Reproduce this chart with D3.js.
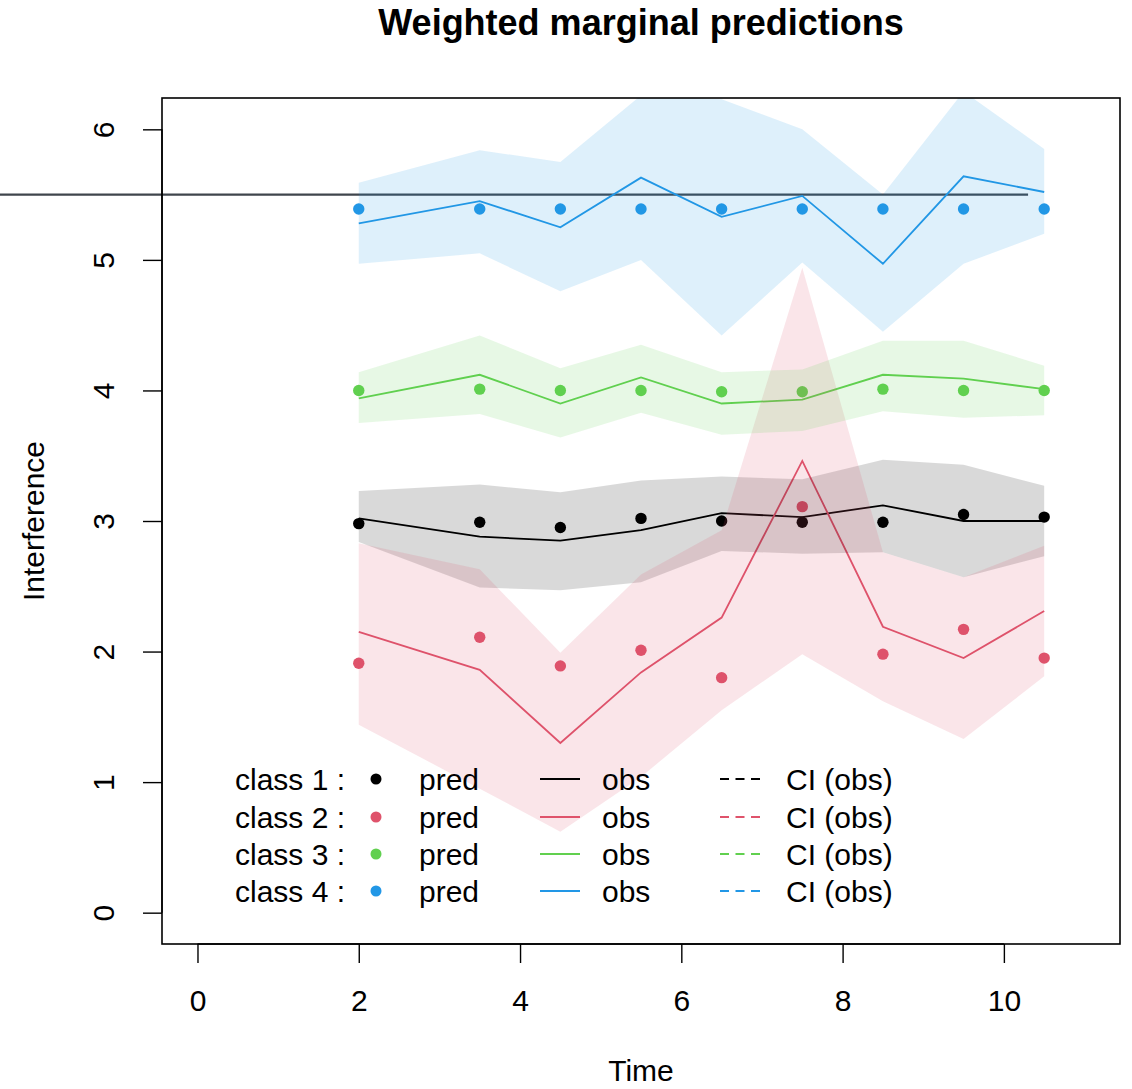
<!DOCTYPE html>
<html>
<head>
<meta charset="utf-8">
<script src="https://cdnjs.cloudflare.com/ajax/libs/d3/7.8.5/d3.min.js"></script>
<style>
  body { margin: 0; background: #fff; }
  svg text { font-family: "Liberation Sans", Arial, Helvetica, sans-serif; fill: #000; }
</style>
</head>
<body>
<div id="chart"></div>
<script>
// Data
//-----
var times = [2, 3.5, 4.5, 5.5, 6.5, 7.5, 8.5, 9.5, 10.5];
var classNames = ["class 1 :", "class 2 :", "class 3 :", "class 4 :"];
var classColors = ["#000000", "#DF536B", "#61D04F", "#2297E6"];

var pred1 = [2.98, 2.99, 2.95, 3.02, 3.00, 2.99, 2.99, 3.05, 3.03];
var obs1  = [3.02, 2.88, 2.85, 2.93, 3.06, 3.03, 3.12, 3.00, 3.00];
var hi1   = [3.23, 3.28, 3.22, 3.31, 3.34, 3.32, 3.47, 3.43, 3.27];
var lo1   = [2.84, 2.49, 2.47, 2.53, 2.77, 2.75, 2.76, 2.57, 2.73];

var pred2 = [1.91, 2.11, 1.89, 2.01, 1.80, 3.11, 1.98, 2.17, 1.95];
var obs2  = [2.15, 1.86, 1.30, 1.84, 2.26, 3.46, 2.19, 1.95, 2.31];
var hi2   = [2.83, 2.63, 1.99, 2.59, 2.93, 4.94, 2.76, 2.57, 2.81];
var lo2   = [1.44, 0.95, 0.62, 1.04, 1.55, 1.98, 1.62, 1.33, 1.81];

var pred3 = [4.00, 4.01, 4.00, 4.00, 3.99, 3.99, 4.01, 4.00, 4.00];
var obs3  = [3.94, 4.12, 3.90, 4.10, 3.90, 3.93, 4.12, 4.09, 4.01];
var hi3   = [4.14, 4.42, 4.17, 4.35, 4.14, 4.16, 4.38, 4.38, 4.19];
var lo3   = [3.75, 3.82, 3.64, 3.83, 3.66, 3.69, 3.84, 3.79, 3.81];

var pred4 = [5.39, 5.39, 5.39, 5.39, 5.39, 5.39, 5.39, 5.39, 5.39];
var obs4  = [5.28, 5.45, 5.25, 5.63, 5.33, 5.49, 4.97, 5.64, 5.52];
var hi4   = [5.59, 5.84, 5.75, 6.26, 6.23, 6.00, 5.50, 6.29, 5.85];
var lo4   = [4.97, 5.05, 4.76, 5.00, 4.42, 4.98, 4.45, 4.97, 5.20];

var xTicks = [0, 2, 4, 6, 8, 10];
var yTicks = [0, 1, 2, 3, 4, 5, 6];

// reference line
var refLevel = 5.5;
var refFrom = -2.5;
var refTo = 10.3;

var series = [
  {pred: pred1, obs: obs1, hi: hi1, lo: lo1},
  {pred: pred2, obs: obs2, hi: hi2, lo: lo2},
  {pred: pred3, obs: obs3, hi: hi3, lo: lo3},
  {pred: pred4, obs: obs4, hi: hi4, lo: lo4}
];

// Sizing parameters
//------------------
var svgWidth = 1132;
var svgHeight = 1089;
var plot = {left: 162, right: 1120, top: 98, bottom: 944};
var fontSize = 30;

var svg = d3.select("#chart")
  .append("svg")
  .attr("width", svgWidth)
  .attr("height", svgHeight);

// Scales (R style: 4% extension of xlim 0..11 and ylim 0..6)
//-----------------------------------------------------------
var xScale = d3.scaleLinear()
  .domain([0 - 0.44, 11 + 0.44])
  .range([plot.left, plot.right]);

var yScale = d3.scaleLinear()
  .domain([0 - 0.24, 6 + 0.24])
  .range([plot.bottom, plot.top]);

svg.append("clipPath")
  .attr("id", "plotClip")
  .append("rect")
  .attr("x", plot.left)
  .attr("y", plot.top)
  .attr("width", plot.right - plot.left)
  .attr("height", plot.bottom - plot.top);

// reference line, drawn past the left of the box
svg.append("line")
  .attr("x1", xScale(refFrom))
  .attr("x2", xScale(refTo))
  .attr("y1", yScale(refLevel))
  .attr("y2", yScale(refLevel))
  .attr("stroke", "#3f454c")
  .attr("stroke-width", 2.2);

var plotGroup = svg.append("g").attr("clip-path", "url(#plotClip)");

var lineGen = d3.line()
  .x((d, i) => xScale(times[i]))
  .y(d => yScale(d));

var areaGen = d3.area()
  .x((d, i) => xScale(times[i]))
  .y0(d => yScale(d[0]))
  .y1(d => yScale(d[1]));

// points, then lines, then the CI bands on top
series.forEach(function(s, k) {
  plotGroup.append("g")
    .selectAll("circle")
    .data(s.pred)
    .enter()
    .append("circle")
    .attr("cx", (d, i) => xScale(times[i]))
    .attr("cy", d => yScale(d))
    .attr("r", 5.7)
    .attr("fill", classColors[k]);
});

series.forEach(function(s, k) {
  plotGroup.append("path")
    .attr("d", lineGen(s.obs))
    .attr("fill", "none")
    .attr("stroke", classColors[k])
    .attr("stroke-width", 1.8);
});

series.forEach(function(s, k) {
  var band = s.lo.map((v, i) => [v, s.hi[i]]);
  plotGroup.append("path")
    .attr("d", areaGen(band))
    .attr("fill", classColors[k])
    .attr("fill-opacity", 0.15)
    .attr("stroke", "none");
});

// Box and axes
//-------------
svg.append("rect")
  .attr("x", plot.left)
  .attr("y", plot.top)
  .attr("width", plot.right - plot.left)
  .attr("height", plot.bottom - plot.top)
  .attr("fill", "none")
  .attr("stroke", "#000")
  .attr("stroke-width", 1.6);

var bottomAxis = d3.axisBottom(xScale)
  .tickValues(xTicks)
  .tickSize(19)
  .tickFormat(d3.format("d"));

var xAxis = svg.append("g")
  .attr("transform", `translate(0, ${plot.bottom})`)
  .call(bottomAxis);

var leftAxis = d3.axisLeft(yScale)
  .tickValues(yTicks)
  .tickSize(19)
  .tickFormat(d3.format("d"));

var yAxis = svg.append("g")
  .attr("transform", `translate(${plot.left}, 0)`)
  .call(leftAxis);

[xAxis, yAxis].forEach(function(ax) {
  ax.select(".domain").remove();
  ax.selectAll("line").attr("stroke", "#000").attr("stroke-width", 1.4);
  ax.selectAll("text")
    .attr("font-size", fontSize)
    .attr("font-family", "Liberation Sans, Arial, sans-serif");
});

// R style axis lines spanning first to last tick
xAxis.append("line")
  .attr("x1", xScale(xTicks[0]))
  .attr("x2", xScale(xTicks[xTicks.length - 1]))
  .attr("stroke", "#000")
  .attr("stroke-width", 1.4);

yAxis.append("line")
  .attr("y1", yScale(yTicks[0]))
  .attr("y2", yScale(yTicks[yTicks.length - 1]))
  .attr("stroke", "#000")
  .attr("stroke-width", 1.4);

// rotated y tick labels
yAxis.selectAll(".tick text")
  .attr("x", 0)
  .attr("y", 0)
  .attr("dy", null)
  .attr("text-anchor", "middle")
  .attr("dominant-baseline", "central")
  .attr("transform", "translate(-59, 0) rotate(-90)");

xAxis.selectAll(".tick text")
  .attr("dy", null)
  .attr("y", 56)
  .attr("dominant-baseline", "central");

// Titles
//-------
svg.append("text")
  .attr("x", (plot.left + plot.right) / 2)
  .attr("y", 22)
  .attr("text-anchor", "middle")
  .attr("dominant-baseline", "central")
  .attr("font-size", 36)
  .attr("font-weight", "bold")
  .text("Weighted marginal predictions");

svg.append("text")
  .attr("x", (plot.left + plot.right) / 2)
  .attr("y", 1081)
  .attr("text-anchor", "middle")
  .attr("font-size", fontSize)
  .text("Time");

svg.append("text")
  .attr("transform", `translate(33, ${(plot.top + plot.bottom) / 2}) rotate(-90)`)
  .attr("text-anchor", "middle")
  .attr("dominant-baseline", "central")
  .attr("font-size", fontSize)
  .text("Interference");

// Legend
//-------
var legendRows = [779, 817, 854, 891];
var legend = svg.append("g");

classNames.forEach(function(name, k) {
  var ly = legendRows[k];
  legend.append("text")
    .attr("x", 235).attr("y", ly)
    .attr("dominant-baseline", "central")
    .attr("font-size", fontSize)
    .text(name);
  legend.append("circle")
    .attr("cx", 376).attr("cy", ly)
    .attr("r", 5.5)
    .attr("fill", classColors[k]);
  legend.append("text")
    .attr("x", 419).attr("y", ly)
    .attr("dominant-baseline", "central")
    .attr("font-size", fontSize)
    .text("pred");
  legend.append("line")
    .attr("x1", 540).attr("x2", 580)
    .attr("y1", ly).attr("y2", ly)
    .attr("stroke", classColors[k])
    .attr("stroke-width", 1.8);
  legend.append("text")
    .attr("x", 602).attr("y", ly)
    .attr("dominant-baseline", "central")
    .attr("font-size", fontSize)
    .text("obs");
  legend.append("line")
    .attr("x1", 720).attr("x2", 760)
    .attr("y1", ly).attr("y2", ly)
    .attr("stroke", classColors[k])
    .attr("stroke-width", 1.8)
    .attr("stroke-dasharray", "9,6.5");
  legend.append("text")
    .attr("x", 786).attr("y", ly)
    .attr("dominant-baseline", "central")
    .attr("font-size", fontSize)
    .text("CI (obs)");
});
</script>
</body>
</html>
